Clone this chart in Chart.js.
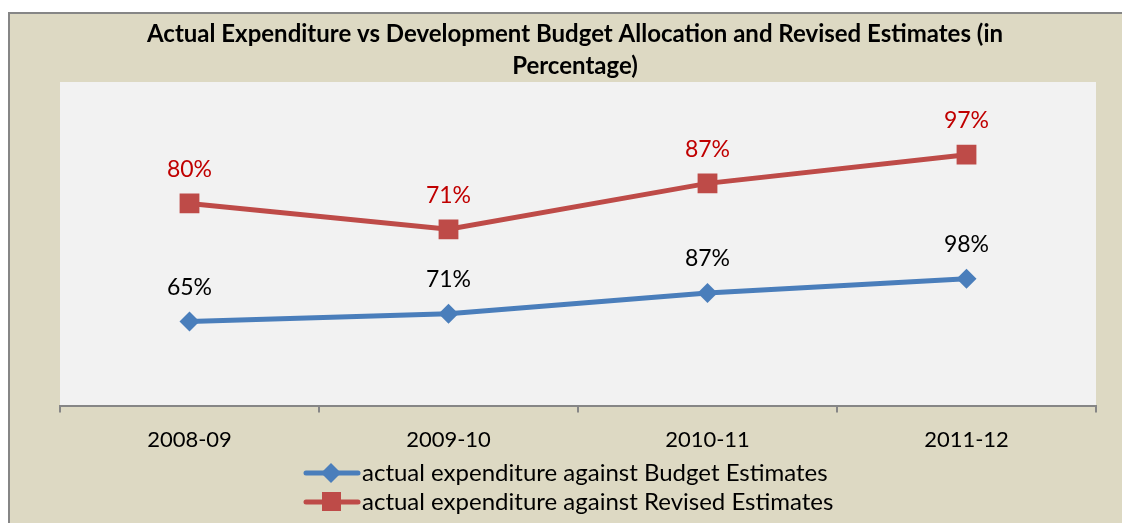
<!DOCTYPE html>
<html>
<head>
<meta charset="utf-8">
<script src="https://cdn.jsdelivr.net/npm/chart.js@4/dist/chart.umd.min.js"></script>
<style>
  html, body { margin: 0; padding: 0; background: #ffffff; }
  #chart-wrap { width: 1122px; height: 523px; }
</style>
</head>
<body>
<div id="chart-wrap"><canvas id="expenditure_chart" width="1122" height="523"></canvas></div>
<script>
const years = ["2008-09", "2009-10", "2010-11", "2011-12"];
const budget_estimates = [65, 71, 87, 98];
const revised_estimates = [80, 71, 87, 97];
const series_names = [
  "actual expenditure against Budget Estimates",
  "actual expenditure against Revised Estimates",
];
const title_lines = [
  "Actual Expenditure vs Development Budget Allocation and Revised Estimates (in",
  "Percentage)",
];

const FONT = "Lato, 'Open Sans', sans-serif";
const BLUE = "#4a7ebb";
const RED = "#be4b48";

// beige frame, outer border and the light grey plot area
const background_plugin = {
  id: "background_plugin",
  beforeDraw(chart) {
    const ctx = chart.ctx;
    const area = chart.chartArea;
    ctx.save();
    ctx.fillStyle = "#ffffff";
    ctx.fillRect(0, 0, chart.width, chart.height);
    ctx.fillStyle = "#ddd9c3";
    ctx.fillRect(8, 12, chart.width, chart.height);
    ctx.strokeStyle = "#868686";
    ctx.lineWidth = 2;
    ctx.beginPath();
    ctx.moveTo(9, chart.height + 2);
    ctx.lineTo(9, 13);
    ctx.lineTo(chart.width + 2, 13);
    ctx.stroke();
    ctx.fillStyle = "#f2f2f2";
    ctx.fillRect(area.left, area.top, area.right - area.left, area.bottom - area.top);
    ctx.restore();
  },
};

// title, value labels and the two-row legend
const text_plugin = {
  id: "text_plugin",
  afterDatasetsDraw(chart) {
    const ctx = chart.ctx;
    ctx.save();
    ctx.textAlign = "center";
    ctx.textBaseline = "middle";

    ctx.fillStyle = "#000000";
    ctx.font = "bold 24px " + FONT;
    ctx.fillText(title_lines[0], 575, 34);
    ctx.fillText(title_lines[1], 575, 66);

    const label_colors = ["#000000", "#c00000"];
    ctx.font = "23px " + FONT;
    chart.data.datasets.forEach((ds, i) => {
      const meta = chart.getDatasetMeta(i);
      ctx.fillStyle = label_colors[i];
      meta.data.forEach((pt, j) => {
        ctx.fillText(ds.data[j] + "%", pt.x, pt.y - 34);
      });
    });

    // legend rows
    const rows = [473, 502];
    ctx.textAlign = "left";
    ctx.font = "24px " + FONT;
    chart.data.datasets.forEach((ds, i) => {
      const y = rows[i];
      ctx.strokeStyle = ds.borderColor;
      ctx.lineWidth = 5;
      ctx.lineCap = "round";
      ctx.beginPath();
      ctx.moveTo(306, y);
      ctx.lineTo(358, y);
      ctx.stroke();
      ctx.fillStyle = ds.borderColor;
      if (i === 0) {
        ctx.beginPath();
        ctx.moveTo(321, y);
        ctx.lineTo(331, y - 10);
        ctx.lineTo(341, y);
        ctx.lineTo(331, y + 10);
        ctx.closePath();
        ctx.fill();
      } else {
        ctx.fillRect(322, y - 10, 19, 19);
      }
      ctx.fillStyle = "#000000";
      ctx.fillText(series_names[i], 362, y);
    });
    ctx.restore();
  },
};

new Chart(document.getElementById("expenditure_chart"), {
  type: "line",
  data: {
    labels: years,
    datasets: [
      {
        label: series_names[0],
        data: budget_estimates,
        borderColor: BLUE,
        backgroundColor: BLUE,
        borderWidth: 5,
        pointStyle: "rectRot",
        pointRadius: 10,
        pointBorderWidth: 0,
        yAxisID: "y",
        tension: 0,
      },
      {
        label: series_names[1],
        data: revised_estimates,
        borderColor: RED,
        backgroundColor: RED,
        borderWidth: 5,
        pointStyle: "rect",
        pointRadius: 14,
        pointBorderWidth: 0,
        yAxisID: "y2",
        tension: 0,
      },
    ],
  },
  options: {
    responsive: false,
    animation: false,
    layout: { padding: { left: 60, right: 26, top: 82, bottom: 56 } },
    plugins: {
      legend: { display: false },
      title: { display: false },
      tooltip: { enabled: false },
    },
    scales: {
      x: {
        offset: true,
        grid: {
          offset: true,
          drawOnChartArea: false,
          drawTicks: true,
          tickLength: 7,
          color: "#868686",
          lineWidth: 2,
        },
        border: { display: true, color: "#868686", width: 2 },
        ticks: {
          color: "#000000",
          font: { family: FONT, size: 22 },
          padding: 14,
        },
      },
      y: { display: false, min: 0, max: 250 },
      y2: { display: false, min: 9.6, max: 122.3 },
    },
  },
  plugins: [background_plugin, text_plugin],
});
</script>
</body>
</html>
